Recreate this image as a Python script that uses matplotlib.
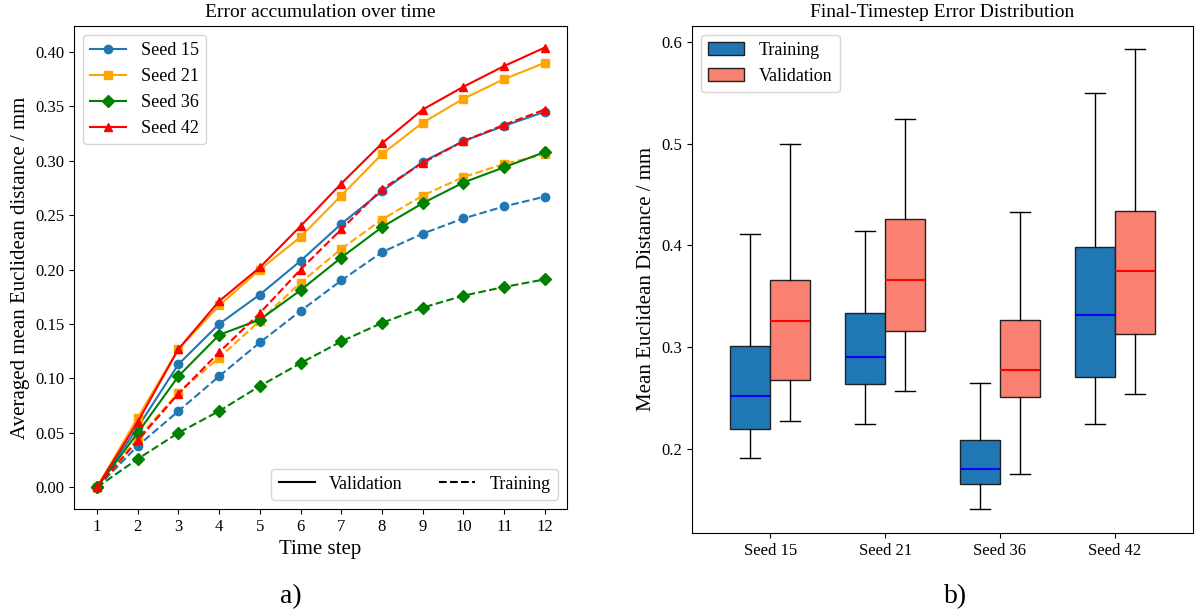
import matplotlib.pyplot as plt

plt.rcParams['font.family'] = ['Liberation Serif', 'DejaVu Serif']

steps = list(range(1, 13))
seeds = ['Seed 15', 'Seed 21', 'Seed 36', 'Seed 42']
colors = ['tab:blue', 'orange', 'green', 'red']
markers = ['o', 's', 'D', '^']

val_err = [
    [0, 0.055, 0.113, 0.150, 0.177, 0.208, 0.242, 0.272, 0.299, 0.318, 0.332, 0.345],
    [0, 0.064, 0.127, 0.167, 0.200, 0.230, 0.268, 0.306, 0.335, 0.357, 0.375, 0.390],
    [0, 0.050, 0.102, 0.140, 0.154, 0.181, 0.211, 0.239, 0.261, 0.280, 0.294, 0.308],
    [0, 0.060, 0.127, 0.171, 0.202, 0.240, 0.279, 0.316, 0.347, 0.368, 0.387, 0.404],
]
train_err = [
    [0, 0.038, 0.070, 0.102, 0.133, 0.162, 0.190, 0.216, 0.233, 0.247, 0.258, 0.267],
    [0, 0.045, 0.087, 0.119, 0.153, 0.188, 0.219, 0.246, 0.268, 0.285, 0.297, 0.306],
    [0, 0.026, 0.050, 0.070, 0.093, 0.114, 0.134, 0.151, 0.165, 0.176, 0.184, 0.191],
    [0, 0.043, 0.086, 0.124, 0.160, 0.200, 0.237, 0.274, 0.298, 0.318, 0.333, 0.347],
]

# final timestep box stats: (whislo, q1, med, q3, whishi)
train_box = [
    (0.191, 0.219, 0.252, 0.301, 0.411),
    (0.224, 0.264, 0.290, 0.333, 0.414),
    (0.141, 0.165, 0.180, 0.208, 0.265),
    (0.224, 0.270, 0.331, 0.398, 0.550),
]
val_box = [
    (0.227, 0.267, 0.326, 0.366, 0.500),
    (0.257, 0.316, 0.366, 0.426, 0.524),
    (0.175, 0.251, 0.277, 0.327, 0.433),
    (0.254, 0.313, 0.375, 0.434, 0.593),
]

fig = plt.figure(figsize=(11.96, 6.14), dpi=100)
ax1 = fig.add_axes([0.0619, 0.171, 0.412, 0.787])
ax2 = fig.add_axes([0.5786, 0.132, 0.419, 0.826])

# a) error accumulation
for i, s in enumerate(seeds):
    ax1.plot(steps, val_err[i], color=colors[i], marker=markers[i], ms=6, label=s)
    ax1.plot(steps, train_err[i], color=colors[i], marker=markers[i], ms=6, ls='--')
leg1 = ax1.legend(loc='upper left', fontsize=13)
ax1.add_artist(leg1)
h1, = ax1.plot([], [], color='black', ls='-', label='Validation')
h2, = ax1.plot([], [], color='black', ls='--', label='Training')
ax1.legend(handles=[h1, h2], loc='lower right', ncol=2, fontsize=13)
ax1.set_xticks(steps)
ax1.set_xlim(0.435, 12.54)
ax1.set_ylim(-0.020, 0.424)
ax1.set_title('Error accumulation over time', fontsize=14)
ax1.set_xlabel('Time step', fontsize=15)
ax1.set_ylabel('Averaged mean Euclidean distance / mm', fontsize=15)
ax1.tick_params(labelsize=12)

# b) final timestep distribution
def stats(rows):
    return [dict(whislo=r[0], q1=r[1], med=r[2], q3=r[3], whishi=r[4], fliers=[]) for r in rows]

pos = [1, 2, 3, 4]
w = 0.35
b1 = ax2.bxp(stats(train_box), positions=[p - w / 2 for p in pos], widths=w, patch_artist=True,
             boxprops=dict(facecolor='#1f77b4', edgecolor='#222222'),
             medianprops=dict(color='blue', lw=1.5), manage_ticks=False)
b2 = ax2.bxp(stats(val_box), positions=[p + w / 2 for p in pos], widths=w, patch_artist=True,
             boxprops=dict(facecolor='salmon', edgecolor='#222222'),
             medianprops=dict(color='red', lw=1.5), manage_ticks=False)
ax2.set_xticks(pos)
ax2.set_xticklabels(seeds)
ax2.set_xlim(0.32, 4.68)
ax2.set_ylim(0.117, 0.616)
ax2.set_yticks([0.2, 0.3, 0.4, 0.5, 0.6])
ax2.set_title('Final-Timestep Error Distribution', fontsize=14)
ax2.set_ylabel('Mean Euclidean Distance / mm', fontsize=15)
ax2.tick_params(labelsize=12)
ax2.legend([b1['boxes'][0], b2['boxes'][0]], ['Training', 'Validation'], loc='upper left', fontsize=13)

fig.text(0.243, 0.028, 'a)', ha='center', va='center', fontsize=20)
fig.text(0.799, 0.028, 'b)', ha='center', va='center', fontsize=20)

fig.savefig('out.png', dpi=100)
